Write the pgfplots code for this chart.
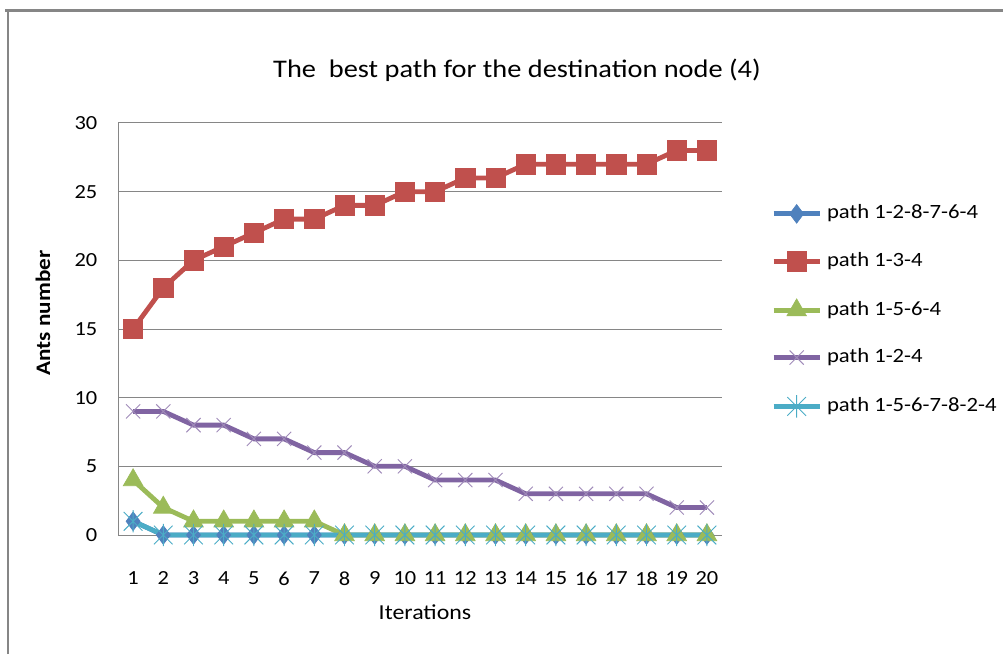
\documentclass[border=0pt]{standalone}
\usepackage{fontspec}
\setmainfont{Carlito}[FakeStretch=1.12]
\usepackage{pgfplots}
\pgfplotsset{compat=1.18}

\definecolor{cblue}{HTML}{4F81BD}
\definecolor{cred}{HTML}{C0504D}
\definecolor{cgreen}{HTML}{9BBB59}
\definecolor{cpurple}{HTML}{8064A2}
\definecolor{ccyan}{HTML}{4BACC6}
\definecolor{cgrid}{HTML}{868686}

\newcommand\tickfont{\fontsize{15}{18}\selectfont}
\newcommand\legfont{\fontsize{15.2}{18}\selectfont}
\newcommand\titlefont{\fontsize{19}{22}\selectfont}

\pgfdeclareplotmark{xstar}{%
  \pgfpathmoveto{\pgfqpoint{-\pgfplotmarksize}{-\pgfplotmarksize}}%
  \pgfpathlineto{\pgfqpoint{\pgfplotmarksize}{\pgfplotmarksize}}%
  \pgfpathmoveto{\pgfqpoint{-\pgfplotmarksize}{\pgfplotmarksize}}%
  \pgfpathlineto{\pgfqpoint{\pgfplotmarksize}{-\pgfplotmarksize}}%
  \pgfpathmoveto{\pgfqpoint{0pt}{-1.2\pgfplotmarksize}}%
  \pgfpathlineto{\pgfqpoint{0pt}{1.2\pgfplotmarksize}}%
  \pgfusepathqstroke}

\begin{document}
\begin{tikzpicture}[x=0.75pt,y=0.75pt]
\useasboundingbox (0,0) rectangle (1003,654);
\draw[cgrid, line width=2.25pt] (5,643.5) -- (1003,643.5);
\draw[cgrid, line width=1.1pt] (8,0) -- (8,644.5);
\begin{axis}[
  at={(88.5pt,89.25pt)}, anchor=south west,
  width=453pt, height=309pt, scale only axis,
  xmin=0.5, xmax=20.5, ymin=0, ymax=30,
  xtick={1,...,20}, ytick={0,5,...,30},
  axis lines*=left, axis line style={cgrid, line width=0.75pt, -},
  ymajorgrids, grid style={cgrid, line width=0.75pt},
  major tick length=0pt,
  /pgf/number format/assume math mode=true,
  tick label style={font=\tickfont},
  yticklabel style={xshift=-12pt},
  xticklabel style={yshift=-24pt},
  clip=false,
  legend cell align=left,
  legend style={draw=none, fill=none, at={(1.0745,0.810)}, anchor=north west,
    row sep=21pt, column sep=3.75pt,
    nodes={inner sep=0pt, text height=11pt, text depth=3.5pt, font=\legfont}},
  legend image code/.code={\draw[#1, mark repeat=2, mark phase=2] plot coordinates {(0pt,0pt)(17.25pt,0pt)(34.5pt,0pt)};},
  every axis plot/.append style={line width=3.6pt},
]
\addplot[cblue, mark=diamond*, mark size=7pt, mark options={solid, line width=0.5pt}] coordinates {
(1,1)(2,0)(3,0)(4,0)(5,0)(6,0)(7,0)(8,0)(9,0)(10,0)(11,0)(12,0)(13,0)(14,0)(15,0)(16,0)(17,0)(18,0)(19,0)(20,0)};
\addlegendentry{path 1-2-8-7-6-4}
\addplot[cred, mark=square*, mark size=7.25pt, mark options={solid, line width=0.5pt}] coordinates {
(1,15)(2,18)(3,20)(4,21)(5,22)(6,23)(7,23)(8,24)(9,24)(10,25)(11,25)(12,26)(13,26)(14,27)(15,27)(16,27)(17,27)(18,27)(19,28)(20,28)};
\addlegendentry{path 1-3-4}
\addplot[cgreen, mark=triangle*, mark size=8.5pt, mark options={solid, line width=0.5pt}] coordinates {
(1,4)(2,2)(3,1)(4,1)(5,1)(6,1)(7,1)(8,0)(9,0)(10,0)(11,0)(12,0)(13,0)(14,0)(15,0)(16,0)(17,0)(18,0)(19,0)(20,0)};
\addlegendentry{path 1-5-6-4}
\addplot[cpurple, mark=x, mark size=7.5pt, mark options={solid, line width=0.7pt, draw=cpurple!75}] coordinates {
(1,9)(2,9)(3,8)(4,8)(5,7)(6,7)(7,6)(8,6)(9,5)(10,5)(11,4)(12,4)(13,4)(14,3)(15,3)(16,3)(17,3)(18,3)(19,2)(20,2)};
\addlegendentry{path 1-2-4}
\addplot[ccyan, mark=xstar, mark size=7pt, mark options={solid, line width=0.7pt}] coordinates {
(1,1)(2,0)(3,0)(4,0)(5,0)(6,0)(7,0)(8,0)(9,0)(10,0)(11,0)(12,0)(13,0)(14,0)(15,0)(16,0)(17,0)(18,0)(19,0)(20,0)};
\addlegendentry{path 1-5-6-7-8-2-4}
\end{axis}
\node[font=\titlefont] at (517,584) {The\ \ best path for the destination node (4)};
\node[rotate=90, font=\fontsize{15.5}{18}\selectfont\bfseries] at (43,341) {Ants number};
\node[font=\fontsize{16}{19}\selectfont] at (425,42) {Iterations};
\end{tikzpicture}
\end{document}
